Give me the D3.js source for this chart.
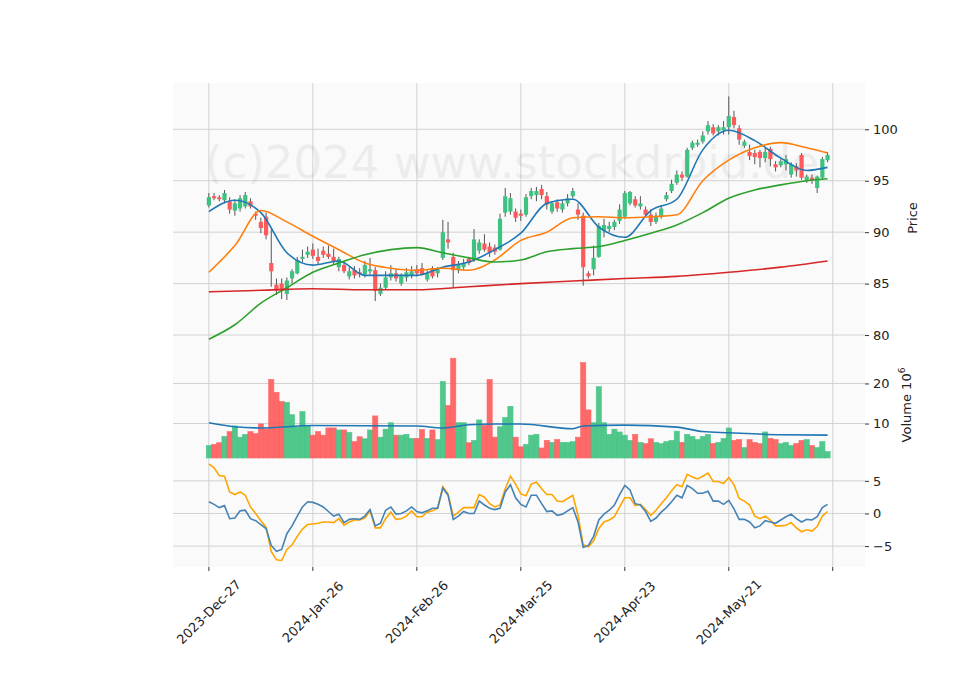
<!DOCTYPE html>
<html><head><meta charset="utf-8">
<script src="https://cdn.jsdelivr.net/npm/d3@7"></script>
<style>body{margin:0;background:#fff}text{font-family:"DejaVu Sans",sans-serif}</style>
</head><body><svg id="c" width="960" height="690"></svg>
<script>
const tickLabels = ["2023-Dec-27","2024-Jan-26","2024-Feb-26","2024-Mar-25","2024-Apr-23","2024-May-21",""];
const tickIdx = [0,20,40,60,80,100,120];
// [open, high, low, close]
const ohlc = [
[92.6,93.8,92.4,93.4],[93.5,93.8,93.1,93.3],[93.4,93.6,93.0,93.2],[93.1,94.1,92.8,93.8],[93.0,93.4,91.8,92.2],
[92.1,93.2,91.6,92.8],[92.3,93.6,92.0,93.3],[92.5,93.9,92.3,93.6],[93.0,93.3,92.3,92.5],[91.8,92.0,91.2,91.6],
[91.0,91.4,89.9,90.4],[91.5,91.9,89.3,89.7],[87.0,90.3,84.7,86.2],[84.9,85.5,83.9,84.3],[85.0,85.5,83.5,84.3],
[84.0,85.6,83.4,85.3],[85.5,86.4,85.0,86.2],[86.0,87.6,85.9,87.3],[87.4,88.3,87.1,87.6],[87.8,88.6,87.5,88.1],
[88.3,88.9,87.4,87.7],[87.6,88.4,86.9,87.2],[88.2,88.6,87.5,87.8],[87.9,88.7,87.4,87.6],[87.6,88.4,86.9,87.1],
[86.6,87.6,86.2,87.4],[86.8,87.1,86.0,86.2],[85.7,86.6,85.4,86.2],[86.3,86.7,85.5,85.8],[86.1,86.5,85.6,85.9],
[85.9,87.2,85.6,86.8],[86.2,87.5,85.9,86.4],[86.3,86.6,83.3,84.3],[84.0,85.0,83.8,84.6],[84.6,86.2,84.4,85.6],
[85.6,86.8,85.3,86.0],[86.0,86.4,85.2,85.5],[85.0,86.0,84.8,85.8],[85.6,86.5,85.2,86.1],[85.8,86.7,85.5,86.2],
[86.4,86.8,85.7,86.0],[86.5,87.0,85.8,85.9],[85.4,86.3,85.2,86.0],[86.5,86.7,85.5,85.7],[86.0,86.6,85.6,86.4],
[87.5,91.2,87.3,90.0],[89.3,91.0,88.4,89.0],[87.6,88.0,84.6,86.3],[86.3,87.2,86.0,86.8],[86.6,87.4,86.3,87.0],
[87.4,87.6,86.8,87.0],[87.3,90.3,87.1,89.3],[88.2,89.3,87.9,89.0],[88.9,89.8,88.1,88.3],[88.6,89.0,87.6,88.0],
[88.5,88.8,87.8,88.1],[88.3,91.8,88.2,91.3],[91.9,94.3,91.5,93.5],[92.0,93.8,91.7,93.3],[92.0,92.3,91.0,91.4],
[91.8,92.2,91.1,91.6],[91.7,93.7,91.5,93.4],[93.5,94.3,93.2,94.0],[93.6,94.4,93.0,94.0],[94.2,94.6,93.2,93.6],
[93.5,93.9,92.2,92.7],[92.0,93.0,91.8,92.8],[92.9,93.2,92.0,92.3],[92.2,93.1,91.9,92.8],[92.8,93.7,92.5,93.3],
[93.5,94.3,93.3,94.0],[92.2,92.8,91.2,91.7],[91.6,91.9,84.8,86.6],[86.0,86.2,85.5,85.7],[86.4,88.7,85.8,87.5],
[87.6,90.9,87.5,90.6],[90.1,91.3,89.5,90.7],[90.3,91.0,90.0,90.6],[90.5,91.2,90.2,91.0],[91.1,92.7,90.8,92.2],
[91.5,94.0,91.3,93.8],[92.8,94.0,92.6,93.9],[93.2,93.5,92.4,92.6],[92.5,93.5,92.2,92.8],[92.2,92.5,91.5,91.7],
[91.7,92.2,90.6,91.0],[91.0,91.9,90.8,91.6],[91.5,92.6,91.3,92.3],[93.2,93.9,93.0,93.6],[94.0,95.1,93.8,94.7],
[94.8,96.0,94.6,95.6],[95.6,95.9,95.0,95.3],[95.4,98.2,95.3,98.0],[98.2,98.9,98.0,98.7],[98.5,99.0,98.3,98.7],
[98.8,99.8,98.6,99.4],[99.8,100.8,99.5,100.4],[100.2,100.5,99.4,99.6],[99.8,100.4,99.4,100.2],[99.9,100.8,99.5,100.2],
[100.2,103.2,99.5,101.3],[101.2,101.8,100.1,100.4],[100.1,100.4,98.5,99.0],[98.4,99.0,98.2,98.8],[97.8,98.5,97.0,97.4],
[97.7,98.0,96.6,97.3],[97.8,98.0,96.3,97.2],[97.2,98.2,96.8,97.8],[98.1,98.3,96.4,97.1],[96.6,96.9,95.9,96.3],
[96.5,97.1,96.3,96.9],[96.6,97.5,96.0,97.1],[95.6,96.8,95.3,96.6],[96.4,96.7,95.4,96.0],[97.5,97.7,95.1,95.3],
[95.0,95.6,94.8,95.4],[95.3,95.6,94.7,95.0],[94.3,95.5,93.8,95.4],[95.3,97.3,95.1,97.1],[97.0,97.8,96.8,97.5]];
const volume = [4.5,4.8,5.2,6.8,8.0,9.4,6.6,7.3,8.0,7.5,9.9,8.6,21,17.8,15.5,15.3,12.2,9.1,13,9.5,
7.1,8.0,7.1,8.9,8.9,8.4,8.4,7.8,5.5,6.7,6.2,8.4,11.9,6.6,8.6,10.2,7.1,7.1,7.3,6.3,
6.3,8.5,6.3,8.4,6.0,20.5,14.5,26.3,10.2,10.2,5.2,5.8,10.9,9.5,21,6.6,9.2,11.5,14.3,6.6,
4.2,4.8,7.1,7.3,3.9,5.8,5.3,6.0,5.3,5.3,5.5,6.6,25.2,13.4,10.2,19.2,10.2,7.3,8.6,7.9,
7.1,5.8,7.3,5.3,5.0,6.2,5.3,5.0,5.5,5.8,8.1,5.3,7.3,6.8,6.0,6.8,7.3,5.0,5.3,6.3,
8.9,5.8,6.0,4.0,6.0,5.3,5.0,7.9,6.3,6.0,5.0,5.3,4.5,5.0,5.8,6.0,4.5,4.0,5.5,3.0];
const volUp = [1,0,0,1,0,1,1,1,0,0,0,0,0,0,0,1,1,1,1,1,0,0,0,0,0,1,0,1,0,0,1,1,0,1,1,1,0,1,1,1,
0,0,1,0,1,1,0,0,1,1,0,1,1,0,0,0,1,1,1,0,0,1,1,1,0,0,1,0,1,1,1,0,0,0,1,1,1,1,1,1,
1,1,0,1,0,0,1,1,1,1,1,0,1,1,1,1,1,0,1,1,1,0,0,1,0,0,0,1,0,0,1,1,1,0,0,1,0,1,1,1];
// moving averages sampled every 5 sessions
const maIdx = [0,5,10,15,20,25,30,35,40,45,50,55,60,65,70,75,80,85,90,95,100,105,110,115,119];
const maFast = [92.0,93.1,91.9,88.0,86.8,87.2,85.8,85.8,85.8,86.6,87.1,88.3,89.9,92.8,93.2,90.5,89.5,92.1,93.2,98.0,99.9,98.9,97.2,96.0,96.3];
const maMid = [86.1,88.7,92.1,91.0,89.6,88.3,87.0,86.5,86.3,86.5,86.3,87.3,89.2,90.0,91.4,91.5,91.4,91.5,91.7,95.0,97.0,98.2,98.7,98.2,97.7];
const maSlow = [79.6,81.0,83.1,84.6,86.1,87.0,87.8,88.3,88.5,88.0,87.5,87.1,87.3,88.1,88.4,88.6,89.2,89.9,90.7,91.9,93.3,94.1,94.6,95.0,95.2];
const maLongIdx = [0,10,20,30,40,50,60,70,80,90,100,110,119];
const maLong = [84.2,84.35,84.5,84.4,84.4,84.7,85.0,85.25,85.5,85.7,86.1,86.6,87.2];
const volMaIdx = [0,5,10,20,40,45,50,55,60,70,72,80,90,95,100,110,119];
const volMa = [10.2,9.2,8.9,9.5,9.4,8.9,9.7,9.9,9.9,8.7,9.4,9.6,9.1,8.0,7.7,7.2,7.1];
const oscA = [1.8,1.4,0.9,1.2,-0.8,-0.7,0.4,0.5,-0.8,-1.1,-1.7,-2.3,-4.9,-5.8,-5.5,-3.1,-1.9,-0.4,1.0,1.8,
1.7,1.4,1.0,0.3,-0.4,-0.1,-1.4,-0.9,-0.8,-0.9,-0.4,0.6,-1.9,-1.5,0.5,1.0,-0.1,0.0,0.4,1.0,
0.3,0.1,0.4,0.8,0.8,3.9,2.8,-0.9,-0.4,0.3,0.0,0.0,1.9,1.3,0.8,0.6,0.8,3.3,4.4,2.4,
1.4,1.0,2.8,2.8,1.5,0.3,0.4,-0.3,-0.1,0.4,0.9,-1.3,-5.2,-4.9,-3.5,-1.0,-0.1,0.5,1.3,2.9,
4.3,3.6,1.5,1.3,0.3,-1.2,-0.7,0.2,0.9,1.8,2.8,2.4,4.3,3.8,3.1,3.1,3.4,1.9,1.9,1.4,
2.0,0.7,-0.9,-0.9,-1.3,-2.2,-1.9,-1.1,-1.3,-1.5,-1.0,-0.5,-0.1,-0.8,-1.3,-0.9,-1.0,-0.5,0.9,1.4];
const oscB = [7.6,7.0,5.8,5.7,3.3,2.9,3.3,2.8,1.0,0.0,-1.1,-2.1,-5.8,-7.1,-7.2,-5.5,-4.8,-3.5,-2.4,-1.7,
-1.6,-1.5,-1.3,-1.3,-1.4,-0.8,-1.8,-1.3,-1.0,-1.0,-0.7,0.4,-2.2,-2.2,-0.8,0.2,-0.9,-0.8,-0.4,0.4,
-0.5,-0.5,0.2,0.4,0.8,4.1,3.0,-0.4,0.2,0.9,0.9,0.9,2.9,2.5,1.5,1.0,1.3,3.8,5.7,4.5,
3.0,2.7,4.5,4.8,3.8,2.9,2.9,1.9,1.8,2.3,2.8,-0.3,-4.8,-5.1,-4.2,-2.3,-1.3,-1.0,-0.5,1.0,
2.4,2.4,1.2,1.4,0.6,-0.3,0.5,1.5,2.4,3.5,4.4,4.1,6.0,5.6,5.3,5.7,6.2,4.9,4.9,4.6,
5.5,4.4,2.3,1.9,1.3,-0.4,-0.8,-0.4,-1.0,-1.9,-1.9,-1.8,-1.4,-2.2,-2.8,-2.5,-2.7,-2.0,-0.4,0.3];

const svg = d3.select("#c");
const L=173, R=865;
const x = d3.scaleLinear().domain([-6.9,126.2]).range([L,R]);
const yP = d3.scaleLinear().domain([78.45,104.5]).range([351,83]);
const yV = d3.scaleLinear().domain([1.4,28.1]).range([458,351]);
const yM = d3.scaleLinear().domain([-8.2,8.5]).range([567,458]);
const grid="#d2d2d2", up="#3fc281", dn="#ff5a5a";

function panel(top,bot,y,ticks,fmt){
  svg.append("rect").attr("x",L).attr("y",top).attr("width",R-L).attr("height",bot-top).attr("fill","#fafafa");
  const g=svg.append("g");
  tickIdx.forEach(t=>g.append("line").attr("x1",x(t)).attr("x2",x(t)).attr("y1",top).attr("y2",bot).attr("stroke",grid));
  ticks.forEach(t=>g.append("line").attr("x1",L).attr("x2",R).attr("y1",y(t)).attr("y2",y(t)).attr("stroke",grid));
  const ax=svg.append("g").attr("transform",`translate(${R},0)`).call(d3.axisRight(y).tickValues(ticks).tickFormat(fmt).tickSize(4).tickPadding(4));
  ax.select(".domain").remove();
  ax.selectAll("line").attr("stroke","#333");
  ax.selectAll("text").attr("font-size",13).attr("fill","#222");
}
panel(83,351,yP,[80,85,90,95,100],d3.format("d"));
panel(351,458,yV,[10,20],d3.format("d"));
panel(458,567,yM,[-5,0,5],d=>d<0?"\u2212"+Math.abs(d):d);

svg.append("text").attr("x",205).attr("y",178).attr("font-size",45).attr("fill","#000").attr("opacity",0.05).text("(c)2024 www.stockdroid.de");

const bw=4.2;
const cg=svg.append("g");
ohlc.forEach((d,i)=>{
  const isUp=volUp[i]===1;
  const c=isUp?up:dn;
  cg.append("line").attr("x1",x(i)).attr("x2",x(i)).attr("y1",yP(d[1])).attr("y2",yP(d[2])).attr("stroke","#555").attr("stroke-width",1);
  const t=Math.max(d[0],d[3]), b=Math.min(d[0],d[3]);
  cg.append("rect").attr("x",x(i)-bw/2).attr("width",bw).attr("y",yP(t)).attr("height",Math.max(1,yP(b)-yP(t))).attr("fill",c);
});
const line=(ys,idx,col,w)=>{
  svg.append("path").datum(idx.map((k,j)=>[k,ys[j]])).attr("fill","none").attr("stroke",col).attr("stroke-width",w)
    .attr("d",d3.line().x(d=>x(d[0])).y(d=>d[1]).curve(d3.curveMonotoneX));
};
const P=a=>a.map(v=>yP(v));
line(P(maFast),maIdx,"#1f77b4",1.6);
line(P(maMid),maIdx,"#ff7f0e",1.6);
line(P(maSlow),maIdx,"#2ca02c",1.6);
line(P(maLong),maLongIdx,"#d62728",1.6);

const vg=svg.append("g");
volume.forEach((v,i)=>{
  const c=volUp[i]?up:dn;
  vg.append("rect").attr("x",x(i)-2.6).attr("width",5.2).attr("y",yV(v)).attr("height",458-yV(v)).attr("fill",c).attr("opacity",0.9).attr("stroke",c).attr("stroke-width",0.6);
});
line(volMa.map(v=>yV(v)),volMaIdx,"#1f77b4",1.6);

const lin=(ys,col)=>svg.append("path").datum(ys).attr("fill","none").attr("stroke",col).attr("stroke-width",1.6)
  .attr("d",d3.line().x((d,i)=>x(i)).y(d=>yM(d)));
lin(oscB,"#ffa500");
lin(oscA,"#4682b4");

// x axis
const xa=svg.append("g").attr("transform","translate(0,567)");
tickIdx.forEach((t,k)=>{
  xa.append("line").attr("x1",x(t)).attr("x2",x(t)).attr("y1",0).attr("y2",4).attr("stroke","#333");
  xa.append("text").attr("transform",`translate(${x(t)},${45}) rotate(-45)`).attr("text-anchor","middle").attr("dy","0.35em").attr("font-size",13).attr("fill","#222").text(tickLabels[k]);
});
svg.append("text").attr("transform","translate(917,218) rotate(-90)").attr("text-anchor","middle").attr("font-size",13).attr("fill","#222").text("Price");
const vl=svg.append("text").attr("transform","translate(911,405) rotate(-90)").attr("text-anchor","middle").attr("font-size",13).attr("fill","#222");
vl.append("tspan").text("Volume  10");
vl.append("tspan").attr("dy",-6).attr("font-size",9).text("6");
</script></body></html>
